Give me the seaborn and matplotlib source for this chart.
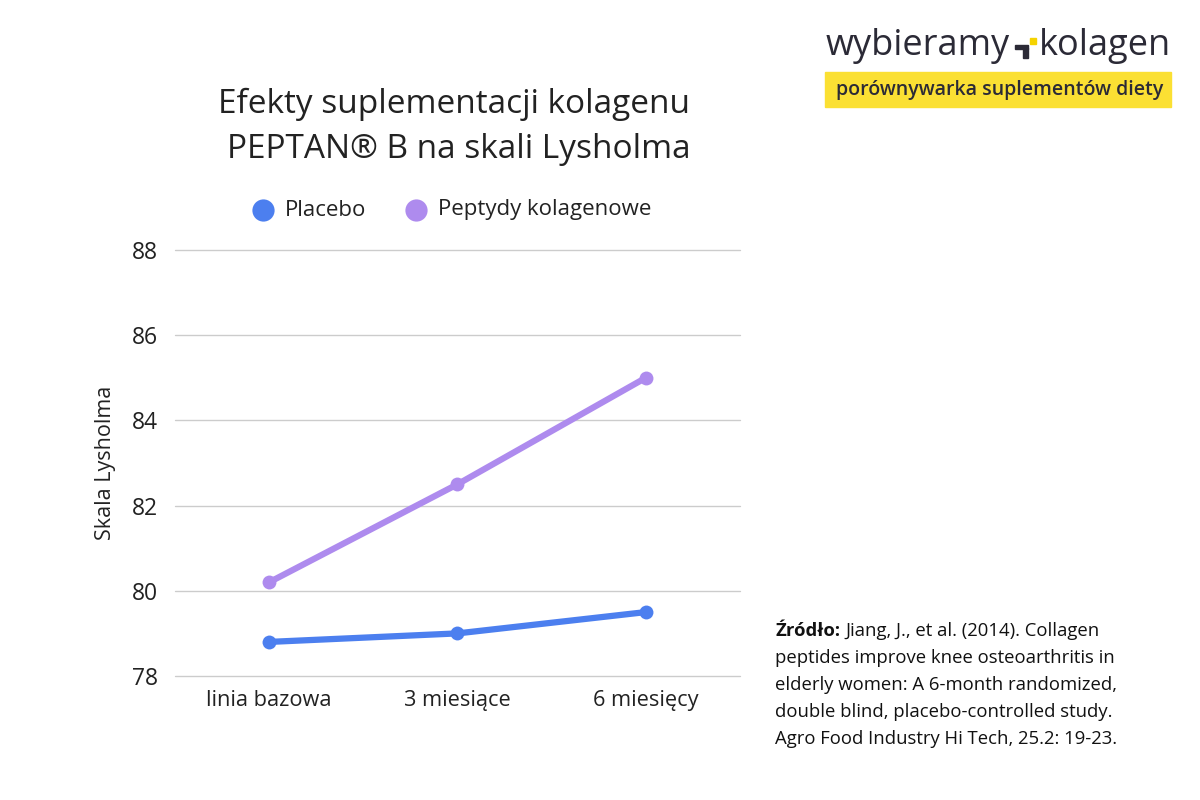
import pandas as pd
import matplotlib
matplotlib.use("Agg")
import matplotlib.pyplot as plt
import seaborn as sns
from matplotlib.patches import Rectangle

# data
okresy = ['linia bazowa', '3 miesiące', '6 miesięcy']
placebo = [78.8, 79.0, 79.5]
peptydy = [80.2, 82.5, 85.0]
serie = ['Placebo', 'Peptydy kolagenowe']
kolory = ['#4C7FEF', '#AE8BEE']
y_ticks = [78, 80, 82, 84, 86, 88]

sns.set_theme(style="white")
plt.rcParams['font.family'] = ['Open Sans', 'DejaVu Sans']

df = pd.DataFrame({
    'okres': okresy * 2,
    'wartosc': placebo + peptydy,
    'seria': [serie[0]] * 3 + [serie[1]] * 3,
})

fig = plt.figure(figsize=(12, 8), dpi=100)
ax = fig.add_axes([0.1458, 0.155, 0.4708, 0.5325])

sns.lineplot(data=df, x='okres', y='wartosc', hue='seria', palette=kolory,
             marker='o', markersize=10, markeredgewidth=0, linewidth=4.5,
             sort=False, legend=False, ax=ax)

ax.set_xlim(-0.5, 2.5)
ax.set_ylim(78, 88)
ax.set_yticks(y_ticks)
ax.yaxis.grid(True, color='#cccccc', linewidth=1)
for gl in ax.get_ygridlines():
    gl.set_clip_on(False)
ax.set_axisbelow(True)
for s in ax.spines.values():
    s.set_visible(False)
ax.tick_params(axis='x', length=0, labelsize=15.7, colors='#222222', pad=10)
ax.tick_params(axis='y', length=0, labelsize=16.5, colors='#222222', pad=12)
ax.set_xlabel('')
ax.set_ylabel('Skala Lysholma', fontsize=15.5, color='#222222', labelpad=12)

# title
fig.text(0.378, 0.869, 'Efekty suplementacji kolagenu', ha='center', va='center',
         fontsize=24, color='#222222')
fig.text(0.382, 0.813, 'PEPTAN® B na skali Lysholma', ha='center', va='center',
         fontsize=24, color='#222222')

# legend
for xm, xt, lab, kol in [(0.219, 0.237, serie[0], kolory[0]),
                         (0.347, 0.365, serie[1], kolory[1])]:
    fig.lines.append(plt.Line2D([xm], [0.7375], marker='o', markersize=16,
                                color=kol, markeredgewidth=0,
                                transform=fig.transFigure))
    fig.text(xt, 0.7375, lab, ha='left', va='center', fontsize=16, color='#222222')

# logo
ciemny = '#2b2a36'
fig.canvas.draw()
r = fig.canvas.get_renderer()
t1 = fig.text(0.688, 0.942, 'wybieramy', ha='left', va='center', fontsize=26,
              color=ciemny, fontweight='medium')
bb = t1.get_window_extent(r)
x_ic = bb.x1 / 1200 + 0.004
fig.patches.append(Rectangle((x_ic, 0.9385), 0.011, 0.005, color=ciemny,
                             transform=fig.transFigure))
fig.patches.append(Rectangle((x_ic + 0.0068, 0.927), 0.0042, 0.013, color=ciemny,
                             transform=fig.transFigure))
fig.patches.append(Rectangle((x_ic + 0.0125, 0.945), 0.0055, 0.008, color='#F5D300',
                             transform=fig.transFigure))
fig.text(x_ic + 0.0205, 0.942, 'kolagen', ha='left', va='center', fontsize=26,
         color=ciemny, fontweight='medium')
fig.patches.append(Rectangle((0.6875, 0.866), 0.288, 0.044, color='#FBE033',
                             transform=fig.transFigure))
fig.text(0.6965, 0.888, 'porównywarka suplementów diety', ha='left', va='center',
         fontsize=14, color=ciemny, fontweight='semibold')

# source
zr = fig.text(0.646, 0.211, 'Źródło:', ha='left', va='center', fontsize=13.3,
              fontweight='bold', color='#111111')
bz = zr.get_window_extent(r)
fig.text(bz.x1 / 1200 + 0.004, 0.211, 'Jiang, J., et al. (2014). Collagen',
         ha='left', va='center', fontsize=13.3, color='#111111')
zrodlo = ['peptides improve knee osteoarthritis in',
          'elderly women: A 6-month randomized,',
          'double blind, placebo-controlled study.',
          'Agro Food Industry Hi Tech, 25.2: 19-23.']
for i, linia in enumerate(zrodlo):
    fig.text(0.646, 0.211 - (i + 1) * 0.0338, linia, ha='left', va='center',
             fontsize=13.3, color='#111111')

fig.savefig('out.png', dpi=100, facecolor='white')
